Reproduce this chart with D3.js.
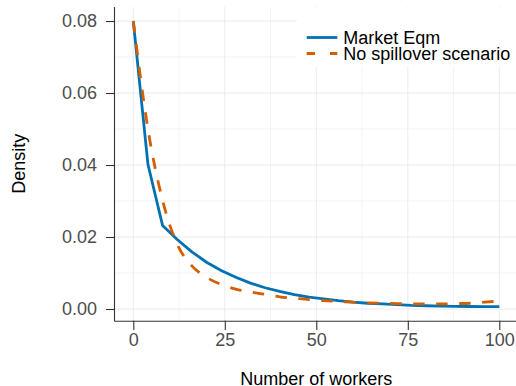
<!DOCTYPE html>
<html>
<head>
<meta charset="utf-8">
<script src="https://cdn.jsdelivr.net/npm/d3@7"></script>
<style>
  body { margin: 0; background: #fff; }
  svg { display: block; font-family: "Liberation Sans", Arial, sans-serif; }
  .grid line { stroke: #ebebeb; }
  .tick-label { fill: #4d4d4d; font-size: 18px; }
</style>
</head>
<body>
<div class="chart"></div>
<script>
// number of workers, sampled every 4
var workers = [0, 4, 8, 12, 16, 20, 24, 28, 32, 36, 40, 44, 48, 52, 56, 60, 64, 68, 72, 76, 80, 84, 88, 92, 96, 100]

var marketEqm = [0.0800, 0.0402, 0.0232, 0.0193, 0.0159, 0.0130, 0.0107, 0.0088, 0.0072, 0.0059,
  0.0049, 0.0040, 0.0033, 0.0028, 0.0023, 0.0019, 0.0016, 0.0014, 0.0012, 0.0010,
  0.0009, 0.0008, 0.00075, 0.0007, 0.00066, 0.00064]

var noSpillover = [0.0800, 0.0500, 0.0302, 0.0180, 0.0120, 0.0088, 0.0068, 0.0055, 0.0047, 0.0041,
  0.0034, 0.0030, 0.0026, 0.0023, 0.0021, 0.0019, 0.0017, 0.0016, 0.0015, 0.0014,
  0.0014, 0.0014, 0.0015, 0.0016, 0.0019, 0.0022]

var seriesNames = ['Market Eqm', 'No spillover scenario']
var seriesColors = ['#0072B2', '#D55E00']

var xTicks = [0, 25, 50, 75, 100]
var xMinor = [12.5, 37.5, 62.5, 87.5]
var yTicks = [0, 0.02, 0.04, 0.06, 0.08]
var yMinor = [0.01, 0.03, 0.05, 0.07]

var width = 516
var height = 386
var panel = {left: 115, right: 517.6, top: 7, bottom: 320.7}

var x = d3.scaleLinear()
  .domain([-5, 105])
  .range([panel.left, panel.right])

var y = d3.scaleLinear()
  .domain([-0.00325, 0.0839])
  .range([panel.bottom, panel.top])

var svg = d3.select('div.chart').append('svg')
  .attr('width', width)
  .attr('height', height)

// grid, minor then major
var grid = svg.append('g').attr('class', 'grid')

grid.selectAll('.vminor')
  .data(xMinor)
  .enter().append('line')
  .attr('x1', function (d) { return x(d) })
  .attr('x2', function (d) { return x(d) })
  .attr('y1', panel.top)
  .attr('y2', panel.bottom)
  .attr('stroke-width', 0.6)

grid.selectAll('.hminor')
  .data(yMinor)
  .enter().append('line')
  .attr('x1', panel.left)
  .attr('x2', panel.right)
  .attr('y1', function (d) { return y(d) })
  .attr('y2', function (d) { return y(d) })
  .attr('stroke-width', 0.6)

grid.selectAll('.vmajor')
  .data(xTicks)
  .enter().append('line')
  .attr('x1', function (d) { return x(d) })
  .attr('x2', function (d) { return x(d) })
  .attr('y1', panel.top)
  .attr('y2', panel.bottom)
  .attr('stroke-width', 1)

grid.selectAll('.hmajor')
  .data(yTicks)
  .enter().append('line')
  .attr('x1', panel.left)
  .attr('x2', panel.right)
  .attr('y1', function (d) { return y(d) })
  .attr('y2', function (d) { return y(d) })
  .attr('stroke-width', 1)

// curves
var series = [
  {name: seriesNames[0], color: seriesColors[0], values: marketEqm, dash: null, curve: d3.curveLinear},
  {name: seriesNames[1], color: seriesColors[1], values: noSpillover, dash: '11.5 11.5', curve: d3.curveMonotoneX}
]

series.forEach(function (s) {
  var line = d3.line()
    .x(function (d, i) { return x(workers[i]) })
    .y(function (d) { return y(d) })
    .curve(s.curve)

  svg.append('path')
    .datum(s.values)
    .attr('fill', 'none')
    .attr('stroke', s.color)
    .attr('stroke-width', 2.8)
    .attr('stroke-dasharray', s.dash)
    .attr('d', line)
})

// legend box sits over the panel
var legend = svg.append('g')
legend.append('rect')
  .attr('x', 297)
  .attr('y', 8)
  .attr('width', width - 297)
  .attr('height', 59)
  .attr('fill', '#fff')

series.forEach(function (s, i) {
  var ly = 37.5 + i * 16
  legend.append('line')
    .attr('x1', 306.7)
    .attr('x2', 337.3)
    .attr('y1', ly)
    .attr('y2', ly)
    .attr('stroke', s.color)
    .attr('stroke-width', 2.8)
    .attr('stroke-dasharray', s.dash ? '8.3 15 8.3' : null)
  legend.append('text')
    .attr('x', 343.3)
    .attr('y', ly + 6.5)
    .style('font-size', '18px')
    .style('fill', '#000')
    .text(s.name)
})

// axes
var xAxis = svg.append('g')
  .attr('transform', 'translate(0,' + panel.bottom + ')')
  .call(d3.axisBottom(x).tickValues(xTicks).tickSize(9.3).tickPadding(3).tickFormat(d3.format('d')))

var yAxis = svg.append('g')
  .attr('transform', 'translate(' + panel.left + ',0)')
  .call(d3.axisLeft(y).tickValues(yTicks).tickSize(9).tickPadding(9).tickFormat(d3.format('.2f')))

;[xAxis, yAxis].forEach(function (a) {
  a.select('.domain').attr('stroke', '#333').attr('stroke-width', 1.1)
  a.selectAll('.tick line').attr('stroke', '#333').attr('stroke-width', 1.1)
  a.selectAll('.tick text')
    .attr('class', 'tick-label')
    .attr('font-family', null)
    .attr('font-size', null)
    .attr('fill', null)
})

xAxis.select('.domain').attr('d', 'M' + (panel.left - 0.5) + ',0.5H' + width)
yAxis.select('.domain').attr('d', 'M-0.5,' + panel.top + 'V' + (panel.bottom + 0.5))

// axis titles
svg.append('text')
  .attr('x', (panel.left + panel.right) / 2)
  .attr('y', 384.5)
  .attr('text-anchor', 'middle')
  .style('font-size', '18px')
  .text('Number of workers')

svg.append('text')
  .attr('transform', 'translate(25,' + ((panel.top + panel.bottom) / 2) + ') rotate(-90)')
  .attr('text-anchor', 'middle')
  .style('font-size', '18px')
  .text('Density')
</script>
</body>
</html>
